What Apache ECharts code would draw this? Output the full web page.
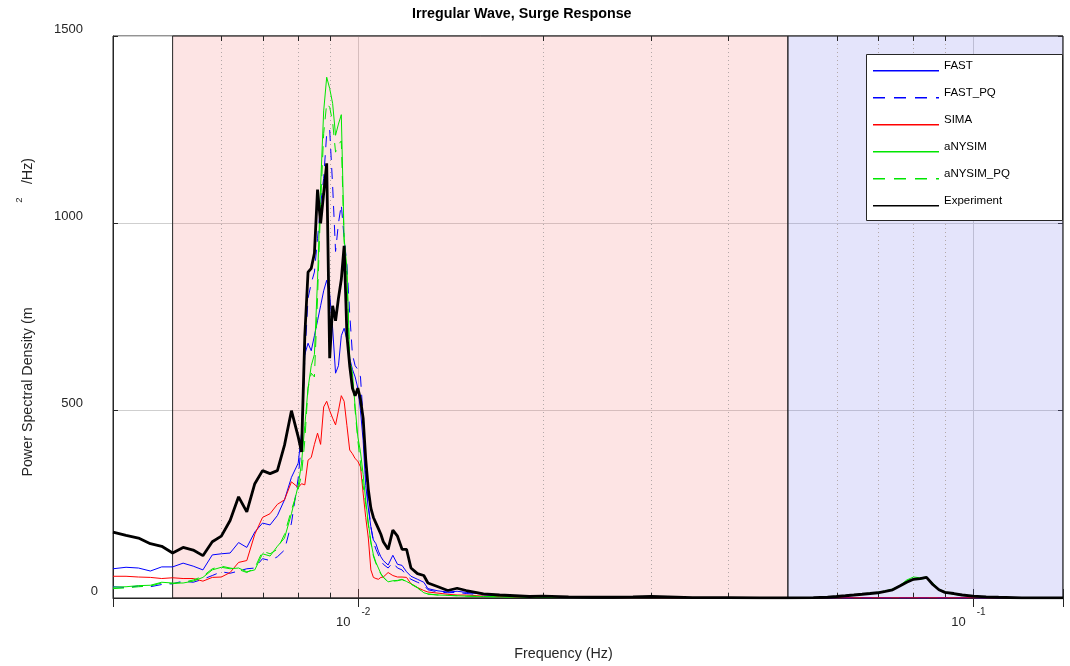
<!DOCTYPE html>
<html>
<head>
<meta charset="utf-8">
<script src="https://cdn.jsdelivr.net/npm/echarts@6/dist/echarts.min.js"></script>
<style>
  html, body { margin: 0; padding: 0; background: #fff; }
  #chart { width: 1070px; height: 666px; }
</style>
</head>
<body>
<div id="chart"></div>
<script>
// Frequency grid (Hz) shared by all spectra
const freq = [
  0.0040, 0.0042, 0.0044, 0.0046, 0.0048, 0.0050, 0.0052, 0.0054, 0.0056, 0.0058,
  0.0060, 0.0062, 0.0064, 0.0066, 0.0068, 0.0070, 0.0072, 0.0074, 0.0076, 0.0078,
  0.0080, 0.0081, 0.0082, 0.0083, 0.0084, 0.0085, 0.0086, 0.0087, 0.0088, 0.0089,
  0.0090, 0.0091, 0.0092, 0.0093, 0.0094, 0.0095, 0.0096, 0.0097, 0.0098, 0.0099,
  0.0100, 0.0101, 0.0102, 0.0103, 0.0104, 0.0105, 0.0106, 0.0107, 0.0108, 0.0109,
  0.0110, 0.0112, 0.0114, 0.0116, 0.0118, 0.0120, 0.0122, 0.0125, 0.0128, 0.0130,
  0.0135, 0.0140, 0.0145, 0.0150, 0.016, 0.017, 0.018, 0.019, 0.020, 0.022,
  0.024, 0.026, 0.028, 0.030, 0.035, 0.040, 0.045, 0.050, 0.055, 0.058,
  0.060, 0.062, 0.064, 0.066, 0.068, 0.070, 0.072, 0.074, 0.076, 0.078,
  0.080, 0.082, 0.084, 0.086, 0.088, 0.090, 0.093, 0.096, 0.100, 0.105,
  0.110, 0.120, 0.130, 0.140
];

// Surge PSD (m^2/Hz) per model
const psdFAST = [
  78, 82, 80, 72, 83, 83, 93, 85, 75, 115,
  118, 120, 148, 135, 176, 200, 195, 220, 262, 322,
  360, 440, 650, 680, 660, 700, 740, 780, 820, 848,
  810, 720, 600, 620, 700, 720, 690, 640, 610, 590,
  560, 500, 420, 300, 240, 190, 155, 145, 125, 110,
  100, 88, 114, 90, 87, 70, 58, 50, 42, 25,
  19, 16, 18, 15, 10, 7, 5, 4, 4, 3,
  2, 2, 2, 3, 1, 1, 0.5, 0.5, 0.3, 0.3,
  0.3, 0.3, 0.3, 0.3, 0.3, 0.3, 0.3, 0.3, 0.3, 0.3,
  0.3, 0.3, 0.3, 0.3, 0.3, 0.3, 0.3, 0.3, 0.3, 0.3,
  0.3, 0.3, 0.3, 0.3
];
const psdFASTPQ = [
  30, 28, 32, 30, 36, 38, 45, 42, 50, 60,
  70, 66, 72, 78, 80, 105, 100, 110, 128, 200,
  320, 420, 640, 800, 840, 870, 960, 1050, 1120, 1240,
  1250, 1100, 925, 1000, 1050, 960, 890, 760, 650, 620,
  610, 590, 480, 330, 250, 190, 150, 130, 115, 100,
  90, 80, 95, 80, 75, 60, 50, 42, 35, 22,
  16, 14, 15, 12, 8, 6, 4, 3, 3, 2,
  2, 2, 2, 2, 1, 1, 0.5, 0.5, 0.3, 0.3,
  0.3, 0.3, 0.3, 0.3, 0.3, 0.3, 0.3, 0.3, 0.3, 0.3,
  0.3, 0.3, 0.3, 0.3, 0.3, 0.3, 0.3, 0.3, 0.3, 0.3,
  0.3, 0.3, 0.3, 0.3
];
const psdSIMA = [
  58, 58, 56, 55, 52, 54, 52, 52, 45, 55,
  56, 68, 95, 100, 170, 215, 225, 250, 262, 310,
  295, 305, 302, 368, 375, 410, 440, 410, 510, 525,
  500, 480, 462, 500, 540, 525, 460, 395, 385, 372,
  365, 350, 280, 215, 160, 75, 55, 52, 50, 55,
  56, 68, 60, 56, 56, 55, 38, 28, 20, 16,
  13, 10, 8, 8, 5, 4, 3, 3, 3, 2,
  2, 1, 1, 1, 0.5, 0.5, 0.3, 0.3, 0.3, 0.3,
  0.3, 0.3, 0.3, 0.3, 0.3, 0.3, 0.3, 0.3, 0.3, 0.3,
  0.3, 0.3, 0.3, 0.3, 0.3, 0.3, 0.3, 0.3, 0.3, 0.3,
  0.3, 0.3, 0.3, 0.3
];
const psdANYSIM = [
  29, 30, 33, 34, 42, 40, 40, 45, 55, 75,
  82, 78, 80, 70, 75, 118, 112, 138, 160, 225,
  300, 360, 460, 560, 620, 650, 850, 1100, 1300, 1390,
  1360, 1320, 1235, 1265, 1290, 960, 880, 635, 600, 510,
  430, 390, 330, 260, 200, 150, 115, 95, 80, 65,
  56, 43, 46, 47, 50, 44, 38, 28, 14, 11,
  8, 7, 6, 5, 4, 3, 3, 2, 2, 2,
  2, 3, 4, 3, 1, 1, 0.5, 0.5, 1, 2,
  4, 6, 8, 11, 13, 15, 19, 24, 33, 48,
  56, 54, 56, 40, 24, 16, 11, 7, 4, 3,
  2, 0.5, 0.3, 0.2
];
const psdANYSIMPQ = [
  25, 27, 30, 32, 40, 38, 42, 48, 58, 78,
  85, 80, 76, 68, 80, 125, 118, 130, 170, 235,
  290, 330, 420, 560, 600, 590, 800, 1050, 1240, 1320,
  1310, 1270, 1190, 1210, 1220, 950, 860, 640, 590, 500,
  420, 360, 300, 250, 195, 148, 112, 92, 78, 64,
  55, 42, 45, 46, 49, 43, 37, 27, 13, 10,
  8, 7, 6, 5, 4, 3, 3, 2, 2, 2,
  2, 3, 4, 3, 1, 1, 0.5, 0.5, 1, 2,
  4, 6, 8, 10, 12, 14, 18, 22, 31, 46,
  54, 50, 53, 38, 22, 15, 10, 6, 4, 3,
  2, 0.5, 0.3, 0.2
];
const psdExperiment = [
  176, 167, 160, 145, 138, 120, 135, 128, 113, 150,
  165, 207, 270, 230, 305, 340, 332, 340, 408, 500,
  430, 390, 700, 870, 880, 920, 1090, 1000, 1080, 1160,
  640, 780, 740, 800, 850, 940, 700, 620, 560, 540,
  560, 530, 480, 370, 290, 240, 215, 200, 185, 170,
  150, 130, 181, 165, 130, 130, 80, 65, 60, 40,
  30, 20, 26, 20, 11, 8, 6, 4, 5, 3,
  2, 2, 3, 4, 1, 1, 0.5, 0.5, 1, 2,
  4, 6, 8, 10, 12, 14, 18, 22, 32, 42,
  50, 52, 55, 36, 22, 15, 12, 8, 5, 3,
  2, 0.5, 0.3, 0.2
];

// Axis ranges, ticks and shaded frequency bands
const xRange = [0.004, 0.14];
const yRange = [0, 1500];
const yStep = 500;
const minorFreqTicks = [0.006, 0.007, 0.008, 0.009, 0.02, 0.03, 0.04, 0.06, 0.07, 0.08, 0.09];
const lowFreqBand = [0.005, 0.05];
const waveFreqBand = [0.05, 0.14];

const seriesNames = ['FAST', 'FAST_PQ', 'SIMA', 'aNYSIM', 'aNYSIM_PQ', 'Experiment'];
const dashedNames = ['FAST_PQ', 'aNYSIM_PQ'];

const FONT = 'Liberation Sans, Arial, Helvetica, sans-serif';
const INK = '#262626';

// Legend swatches: a short line sitting a little below the label's middle
const SOLID_ICON = 'path://M0 0h0.01v0.01h-0.01z M0 9.5h66v1.5h-66z';
const DASH_ICON = 'path://M0 0h0.01v0.01h-0.01z M0 9.5h12v1.5h-12z M21 9.5h12v1.5h-12z M42 9.5h12v1.5h-12z M63 9.5h3v1.5h-3z';

const chart = echarts.init(document.getElementById('chart'), null, { renderer: 'canvas' });

const pairs = (vals) => freq.map((f, i) => [f, vals[i]]);

function lineSeries(name, vals, color, lineOpts = {}) {
  return {
    name, type: 'line', data: pairs(vals),
    showSymbol: false, symbol: 'none', animation: false, silent: true,
    lineStyle: Object.assign({ color, width: 1 }, lineOpts),
    itemStyle: { color }
  };
}

const option = {
  animation: false,
  backgroundColor: '#fff',
  title: {
    text: 'Irregular Wave, Surge Response',
    left: 412, top: 7, padding: 0,
    textStyle: { fontFamily: FONT, fontSize: 14.3, fontWeight: 'bold', color: '#000' }
  },
  grid: {
    left: 113, right: 7, top: 36, bottom: 68,
    show: true, borderColor: INK, borderWidth: 1, backgroundColor: 'transparent'
  },
  legend: {
    data: seriesNames.map((n) => ({ name: n, icon: dashedNames.includes(n) ? DASH_ICON : SOLID_ICON })),
    orient: 'vertical',
    left: 866, top: 54, z: 20,
    itemWidth: 66, itemHeight: 22, itemGap: 15,
    symbolKeepAspect: true,
    padding: [6, 0, 0, 7],
    selectedMode: false,
    textStyle: { fontFamily: FONT, fontSize: 11.5, color: '#000' }
  },
  xAxis: [{
    type: 'log', logBase: 10, min: xRange[0], max: xRange[1],
    name: 'Frequency (Hz)', nameLocation: 'middle', nameGap: 49,
    nameTextStyle: { fontFamily: FONT, fontSize: 14.3, color: INK, padding: [0, 49, 0, 0] },
    axisLine: { show: true, lineStyle: { color: INK, width: 1 } },
    axisTick: { show: true, inside: true, length: 9, lineStyle: { color: INK } },
    splitLine: { show: true, lineStyle: { color: '#cfcfcf', width: 1 } },
    minorTick: { show: false }, minorSplitLine: { show: false },
    axisLabel: {
      margin: 9,
      formatter: (v) => {
        const e = Math.log10(v);
        const r = Math.round(e);
        if (Math.abs(e - r) > 1e-6) return '';
        return '{s|' + (r < 0 ? '-' : '') + Math.abs(r) + '}\n{b|10}';
      },
      rich: {
        s: { fontFamily: FONT, fontSize: 10, lineHeight: 10, color: INK, padding: [0, 0, 0, 16] },
        b: { fontFamily: FONT, fontSize: 13, lineHeight: 11, color: INK, padding: [0, 29, 0, 0] }
      }
    }
  }, {
    type: 'log', logBase: 10, min: xRange[0], max: xRange[1], position: 'top',
    axisLine: { show: false },
    axisTick: { show: true, inside: true, length: 9, lineStyle: { color: INK } },
    axisLabel: { show: false }, splitLine: { show: false }
  }],
  yAxis: [{
    type: 'value', min: yRange[0], max: yRange[1], interval: yStep,
    axisLine: { show: true, lineStyle: { color: INK, width: 1 } },
    axisTick: { show: true, inside: true, length: 5, lineStyle: { color: INK } },
    splitLine: { show: true, lineStyle: { color: '#cfcfcf', width: 1 } },
    axisLabel: {
      margin: 15,
      formatter: (v) => (v === 0 ? '{z|0}' : '{n|' + v + '}'),
      rich: {
        z: { fontFamily: FONT, fontSize: 13, color: INK, padding: [0, 0, 14, 0] },
        n: { fontFamily: FONT, fontSize: 13, color: INK, padding: [0, 15, 14, 0] }
      }
    }
  }, {
    type: 'value', min: yRange[0], max: yRange[1], interval: yStep, position: 'right',
    axisLine: { show: false },
    axisTick: { show: true, inside: true, length: 5, lineStyle: { color: INK } },
    axisLabel: { show: false }, splitLine: { show: false }
  }],
  graphic: [
    {
      // legend frame
      type: 'rect', z: 10, silent: true,
      shape: { x: 866.5, y: 54.5, width: 196, height: 166 },
      style: { fill: '#fff', stroke: INK, lineWidth: 1 }
    },
    {
      type: 'text', x: 28, y: 392, rotation: Math.PI / 2, silent: true,
      style: { text: 'Power Spectral Density (m', fontFamily: FONT, fontSize: 14.3, fill: INK, align: 'center', verticalAlign: 'middle' }
    },
    {
      type: 'text', x: 19, y: 200, rotation: Math.PI / 2, silent: true,
      style: { text: '2', fontFamily: FONT, fontSize: 9.5, fill: INK, align: 'center', verticalAlign: 'middle' }
    },
    {
      type: 'text', x: 28, y: 171, rotation: Math.PI / 2, silent: true,
      style: { text: '/Hz)', fontFamily: FONT, fontSize: 14.3, fill: INK, align: 'center', verticalAlign: 'middle' }
    }
  ],
  series: [
    {
      // dotted minor grid with inward ticks on both horizontal edges
      name: 'minorGrid', type: 'custom', silent: true, animation: false,
      data: minorFreqTicks.map((f) => [f, 0]),
      encode: { x: 0, y: 1 },
      renderItem: (params, api) => {
        const cs = params.coordSys;
        const x = Math.round(api.coord([api.value(0), 0])[0]) + 0.5;
        const top = cs.y, bottom = cs.y + cs.height;
        return {
          type: 'group',
          children: [
            { type: 'line', shape: { x1: x, y1: top, x2: x, y2: bottom }, style: { stroke: '#b3a8a8', lineWidth: 1, lineDash: [1, 3] } },
            { type: 'line', shape: { x1: x, y1: bottom, x2: x, y2: bottom - 5 }, style: { stroke: INK, lineWidth: 1 } },
            { type: 'line', shape: { x1: x, y1: top, x2: x, y2: top + 5 }, style: { stroke: INK, lineWidth: 1 } }
          ]
        };
      },
      markArea: {
        silent: true,
        data: [
          [{ xAxis: lowFreqBand[0], itemStyle: { color: 'rgba(245,120,120,0.2)', borderColor: INK, borderWidth: 1 } }, { xAxis: lowFreqBand[1] }],
          [{ xAxis: waveFreqBand[0], itemStyle: { color: 'rgba(120,120,235,0.2)', borderColor: INK, borderWidth: 1 } }, { xAxis: waveFreqBand[1] }]
        ]
      }
    },
    lineSeries('FAST', psdFAST, '#0000ff'),
    lineSeries('FAST_PQ', psdFASTPQ, '#0000ff', { type: [11, 8] }),
    lineSeries('SIMA', psdSIMA, '#ff0000'),
    lineSeries('aNYSIM', psdANYSIM, '#00e600'),
    lineSeries('aNYSIM_PQ', psdANYSIMPQ, '#00e600', { type: [11, 8] }),
    lineSeries('Experiment', psdExperiment, '#000000', { width: 2.8 })
  ]
};

chart.setOption(option);
</script>
</body>
</html>
